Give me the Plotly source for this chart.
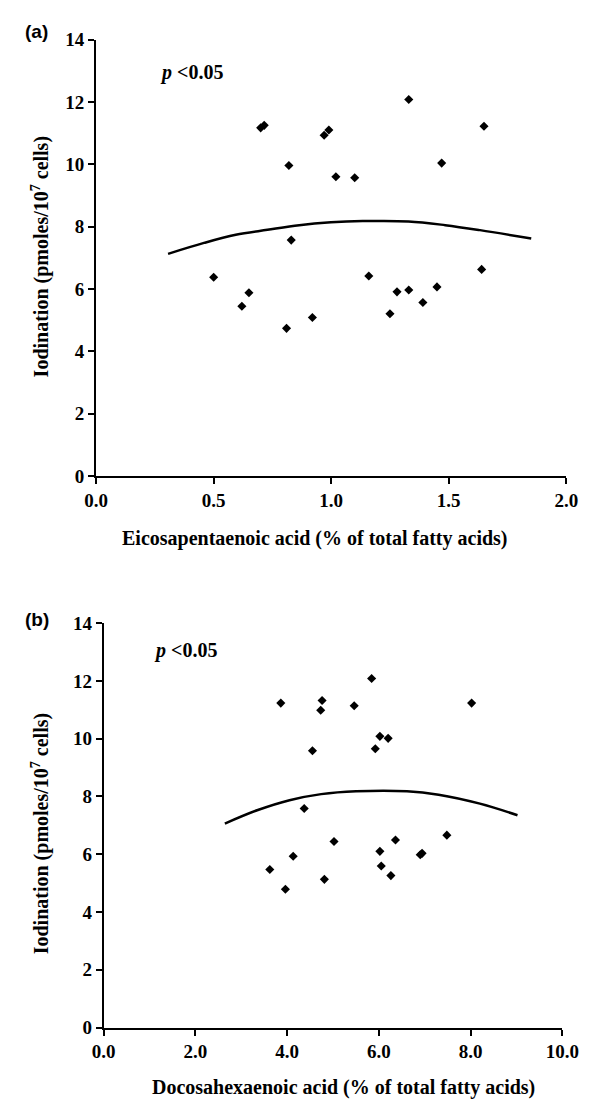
import plotly.graph_objects as go

# Panel (a): EPA vs iodination
epa_x = [0.50, 0.65, 0.62, 0.81, 0.92, 0.83, 0.70, 0.715, 0.82, 0.97, 0.99, 1.02, 1.10,
         1.33, 1.47, 1.65, 1.16, 1.28, 1.33, 1.45, 1.39, 1.25, 1.64]
epa_y = [6.38, 5.88, 5.45, 4.74, 5.09, 7.57, 11.17, 11.25, 9.96, 10.93, 11.10, 9.60, 9.57,
         12.08, 10.04, 11.22, 6.42, 5.91, 5.97, 6.07, 5.57, 5.21, 6.63]
epa_fit_x = [0.306, 0.459, 0.594, 0.729, 0.864, 0.999, 1.134, 1.329, 1.485, 1.633, 1.851]
epa_fit_y = [7.13, 7.48, 7.74, 7.90, 8.05, 8.14, 8.18, 8.17, 8.05, 7.89, 7.62]

# Panel (b): DHA vs iodination
dha_x = [3.86, 4.76, 4.73, 5.46, 5.84, 8.02, 4.55, 6.02, 6.20, 5.92, 4.37, 5.02, 6.36,
         7.48, 6.02, 6.90, 6.94, 4.13, 3.62, 6.05, 4.81, 6.26, 3.96]
dha_y = [11.23, 11.32, 10.98, 11.14, 12.08, 11.23, 9.58, 10.08, 10.01, 9.65, 7.58, 6.44, 6.49,
         6.66, 6.10, 5.98, 6.03, 5.93, 5.47, 5.59, 5.13, 5.26, 4.79]
dha_fit_x = [2.64, 3.36, 4.05, 4.74, 5.50, 6.61, 7.30, 8.20, 9.02]
dha_fit_y = [7.06, 7.53, 7.87, 8.08, 8.18, 8.18, 8.06, 7.75, 7.35]

x_a_ticks = [0.0, 0.5, 1.0, 1.5, 2.0]
x_b_ticks = [0.0, 2.0, 4.0, 6.0, 8.0, 10.0]
y_ticks = [0, 2, 4, 6, 8, 10, 12, 14]

SERIF = "Liberation Serif, Times New Roman, serif"
tickfont = dict(family=SERIF, size=19, color="black")

fig = go.Figure()
fig.add_trace(go.Scatter(x=epa_x, y=epa_y, mode="markers", xaxis="x", yaxis="y",
                         marker=dict(symbol="diamond", size=7, color="black"), showlegend=False))
fig.add_trace(go.Scatter(x=epa_fit_x, y=epa_fit_y, mode="lines", xaxis="x", yaxis="y",
                         line=dict(color="black", width=2.5, shape="spline"), showlegend=False))
fig.add_trace(go.Scatter(x=dha_x, y=dha_y, mode="markers", xaxis="x2", yaxis="y2",
                         marker=dict(symbol="diamond", size=7, color="black"), showlegend=False))
fig.add_trace(go.Scatter(x=dha_fit_x, y=dha_fit_y, mode="lines", xaxis="x2", yaxis="y2",
                         line=dict(color="black", width=2.5, shape="spline"), showlegend=False))

H = 1113.0
W = 600.0

def xax(domain, rng, ticks, anchor):
    return dict(domain=domain, range=rng, tickvals=ticks, ticktext=[f"<b>{t:.1f}</b>" for t in ticks],
                showgrid=False, zeroline=False, showline=True, linecolor="black", linewidth=2,
                ticks="outside", ticklen=6, tickwidth=2, tickcolor="black", tickfont=tickfont,
                anchor=anchor, fixedrange=True)

def yax(domain, anchor):
    return dict(domain=domain, range=[0, 14], tickvals=y_ticks, ticktext=[f"<b>{t}</b>" for t in y_ticks],
                showgrid=False, zeroline=False, showline=True, linecolor="black", linewidth=2,
                ticks="outside", ticklen=6, tickwidth=2, tickcolor="black", tickfont=tickfont,
                anchor=anchor, fixedrange=True)

fig.update_layout(
    width=600, height=1113, margin=dict(l=0, r=0, t=0, b=0),
    paper_bgcolor="white", plot_bgcolor="white",
    xaxis=xax([80 / W, 574 / W], [0, 2], x_a_ticks, "y"),
    yaxis=yax([1 - 467 / H, 1 - 22 / H], "x"),
    xaxis2=xax([88 / W, 570 / W], [0, 10], x_b_ticks, "y2"),
    yaxis2=yax([1 - 1029 / H, 1 - 616.7 / H], "x2"),
)

title_font = dict(family=SERIF, size=20, color="black")
label_font = dict(family="Liberation Sans, Arial, sans-serif", size=19, color="black")

annots = [
    dict(text="<b>(a)</b>", x=3 / W, y=1 - 14 / H, xanchor="left", yanchor="middle", font=label_font),
    dict(text="<b>(b)</b>", x=3 / W, y=1 - 613 / H, xanchor="left", yanchor="middle", font=label_font),
    dict(text="<b><i>p</i> <0.05</b>", x=145 / W, y=1 - 56 / H, xanchor="left", yanchor="middle", font=title_font),
    dict(text="<b><i>p</i> <0.05</b>", x=139 / W, y=1 - 645 / H, xanchor="left", yanchor="middle", font=title_font),
    dict(text="<b>Iodination (pmoles/10<sup>7</sup> cells)</b>", x=21 / W, y=1 - 243 / H, textangle=-90,
         xanchor="center", yanchor="middle", font=title_font),
    dict(text="<b>Iodination (pmoles/10<sup>7</sup> cells)</b>", x=21 / W, y=1 - 831 / H, textangle=-90,
         xanchor="center", yanchor="middle", font=title_font),
    dict(text="<b>Eicosapentaenoic acid (% of total fatty acids)</b>", x=310 / W, y=1 - 530 / H,
         xanchor="center", yanchor="middle", font=title_font),
    dict(text="<b>Docosahexaenoic acid (% of total fatty acids)</b>", x=340 / W, y=1 - 1090 / H,
         xanchor="center", yanchor="middle", font=title_font),
]
for a in annots:
    a.update(xref="paper", yref="paper", showarrow=False)
fig.update_layout(annotations=annots)

fig.write_html("out.html")
